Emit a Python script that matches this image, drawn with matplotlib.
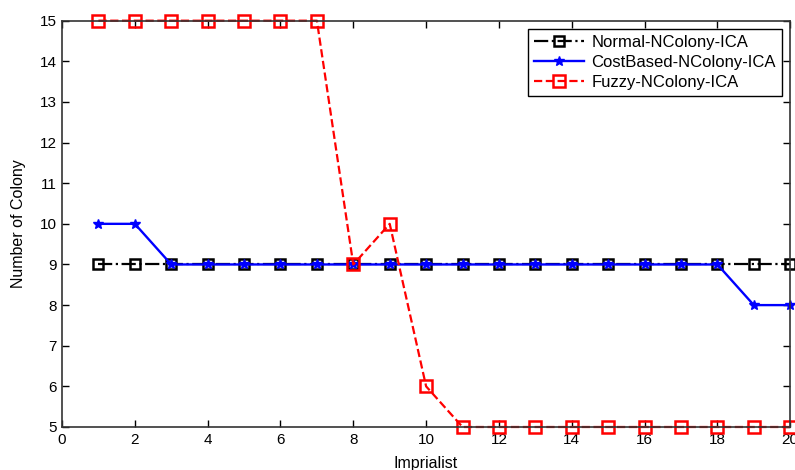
import matplotlib.pyplot as plt
import numpy as np

plt.rcParams['font.family'] = ['Liberation Sans', 'DejaVu Sans']

# data
imperialist = list(range(1, 21))
normal = [9] * 20
costbased = [10, 10] + [9] * 16 + [8, 8]
fuzzy = [15, 15, 15, 15, 15, 15, 15, 9, 10, 6] + [5] * 10

fig = plt.figure(figsize=(7.95, 4.7), dpi=100)
ax = fig.add_axes([0.078, 0.0915, 0.916, 0.8645])

ax.plot(imperialist, normal, linestyle='-.', color='black', linewidth=1.6,
        marker='s', markersize=6.5, markerfacecolor='none', markeredgewidth=1.8,
        label='Normal-NColony-ICA', clip_on=False)
ax.plot(imperialist, costbased, linestyle='-', color='blue', linewidth=1.7,
        marker='*', markersize=7, label='CostBased-NColony-ICA', clip_on=False)
ax.plot(imperialist, fuzzy, linestyle='--', color='red', linewidth=1.6,
        marker='s', markersize=8, markerfacecolor='none', markeredgewidth=1.8,
        label='Fuzzy-NColony-ICA', clip_on=False)

ax.set_xlim(0, 20)
ax.set_ylim(5, 15)
ax.set_xticks(np.arange(0, 21, 2))
ax.set_yticks(np.arange(5, 16, 1))
ax.tick_params(direction='in', top=True, right=True, labelsize=11, length=5, width=1, pad=4)
for s in ax.spines.values():
    s.set_linewidth(1.2)
    s.set_color('#333333')

ax.set_xlabel('Imprialist', fontsize=11.5, labelpad=7)
ax.set_ylabel('Number of Colony', fontsize=11.5, labelpad=10)

leg = ax.legend(loc='upper right', fontsize=12, fancybox=False, framealpha=1,
                edgecolor='black', borderaxespad=0.5, handlelength=3.0,
                labelspacing=0.3, borderpad=0.35, handletextpad=0.45)
leg.get_frame().set_linewidth(1.0)

fig.savefig('out.png', dpi=100)
